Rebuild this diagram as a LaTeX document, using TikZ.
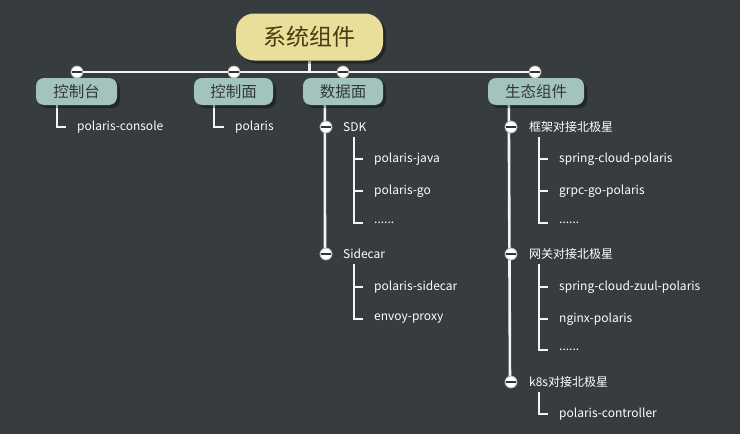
\documentclass[tikz,border=0pt]{standalone}
\usepackage{fontspec}
\setmainfont{Noto Sans CJK SC}
\usetikzlibrary{shadows,patterns,backgrounds}
\definecolor{bgcol}{HTML}{363B3E}
\definecolor{dotcol}{HTML}{43494C}
\definecolor{rootcol}{HTML}{E9DF9A}
\definecolor{roottxt}{HTML}{4A3B10}
\definecolor{maincol}{HTML}{A3C4BD}
\definecolor{maintxt}{HTML}{35363C}
\definecolor{linecol}{HTML}{F4F4F4}
\begin{document}
\begin{tikzpicture}[x=1pt,y=-1pt,
  rootnode/.style={fill=rootcol,rounded corners=18pt,minimum width=147pt,minimum height=47pt,text=roottxt,font=\fontsize{23}{26}\selectfont,drop shadow={shadow xshift=3pt,shadow yshift=-3pt,fill=black,opacity=0.35}},
  mainnode/.style={fill=maincol,rounded corners=8pt,minimum height=27pt,text=maintxt,font=\fontsize{15.5}{18}\selectfont,drop shadow={shadow xshift=3pt,shadow yshift=-3pt,fill=black,opacity=0.35}},
  subnode/.style={anchor=west,inner sep=1pt,text=white,font=\fontsize{12}{14}\selectfont},
  leaf/.style={anchor=west,inner sep=1pt,text=white,font=\fontsize{12}{14}\selectfont},
  fold/.style={circle,draw=gray!60,line width=0.8pt,fill=white,minimum size=12pt,inner sep=0pt,path picture={\draw[gray!40!black,line width=1.3pt] ([xshift=0.8pt]path picture bounding box.west) -- ([xshift=-0.8pt]path picture bounding box.east);}},
  conn/.style={draw=linecol,line width=2.6pt},
  elbow/.style={draw=linecol,line width=2.2pt,shorten >=10pt}
]
  \useasboundingbox (0,0) rectangle (740,434);

  % Root and first level
  \node[rootnode] (root) at (309.5,37) {系统组件};
  \coordinate (hub) at (309.5,72);
  \node[fold] (f1) at (77,72) {};
  \node[fold] (f2) at (234,72) {};
  \node[fold] (f3) at (343,72) {};
  \node[fold] (f4) at (535,72) {};
  \node[mainnode,minimum width=81pt] (console) at (76.5,91.5) {控制台};
  \node[mainnode,minimum width=79pt] (control) at (233.5,91.5) {控制面};
  \node[mainnode,minimum width=80pt] (data) at (343,91.5) {数据面};
  \node[mainnode,minimum width=96pt] (eco) at (536,91.5) {生态组件};

  % Console and control plane
  \node[leaf] (pconsole) at (76,127) {polaris-console};
  \node[leaf] (pserver) at (234,127) {polaris};

  % Data plane
  \node[fold] (fsdk) at (326,127) {};
  \node[fold] (fsidecar) at (326,254) {};
  \node[subnode] (sdk) at (342,127) {SDK};
  \node[subnode] (sidecar) at (342,254) {Sidecar};
  \node[leaf] (pjava) at (373,159) {polaris-java};
  \node[leaf] (pgo) at (373,191) {polaris-go};
  \node[leaf] (sdkmore) at (373,223) {......};
  \node[leaf] (psidecar) at (373,287) {polaris-sidecar};
  \node[leaf] (envoy) at (373,319) {envoy-proxy};

  % Ecosystem
  \node[fold] (fframe) at (511,127) {};
  \node[fold] (fgate) at (511,254) {};
  \node[fold] (fk8s) at (511,382) {};
  \node[subnode] (frame) at (528,127) {框架对接北极星};
  \node[subnode] (gate) at (528,254) {网关对接北极星};
  \node[subnode] (k8s) at (528,382) {k8s对接北极星};
  \node[leaf] (scp) at (558,159) {spring-cloud-polaris};
  \node[leaf] (grpc) at (558,191) {grpc-go-polaris};
  \node[leaf] (framemore) at (558,223) {......};
  \node[leaf] (zuul) at (558,287) {spring-cloud-zuul-polaris};
  \node[leaf] (nginx) at (558,319) {nginx-polaris};
  \node[leaf] (gatemore) at (558,350) {......};
  \node[leaf] (ctrl) at (558,414) {polaris-controller};

  \coordinate (sdkbar) at ([xshift=12pt,yshift=-10pt]sdk.west);
  \coordinate (sidecarbar) at ([xshift=12pt,yshift=-10pt]sidecar.west);
  \coordinate (framebar) at ([xshift=11pt,yshift=-10pt]frame.west);
  \coordinate (gatebar) at ([xshift=11pt,yshift=-10pt]gate.west);
  \coordinate (k8sbar) at ([xshift=11pt,yshift=-10pt]k8s.west);

  \begin{scope}[on background layer]
    \fill[bgcol] (0,0) rectangle (740,434);
    \fill[pattern=dots,pattern color=dotcol] (0,0) rectangle (740,434);
    % Connectors
    \draw[conn] (root.south) -- (hub);
    \draw[conn] (f1.center) -- (f4.center);
    \draw[elbow] ([xshift=21pt]console.south west) |- (pconsole.west);
    \draw[elbow] ([xshift=20pt]control.south west) |- (pserver.west);
    \draw[conn] ([xshift=22pt]data.south west) -- ([xshift=-1pt]fsidecar.center);
    \draw[conn] ([xshift=21pt]eco.south west) -- ([xshift=-1pt]fk8s.center);
    \draw[elbow] (sdkbar) |- (pjava.west);
    \draw[elbow] (sdkbar) |- (pgo.west);
    \draw[elbow] (sdkbar) |- (sdkmore.west);
    \draw[elbow] (sidecarbar) |- (psidecar.west);
    \draw[elbow] (sidecarbar) |- (envoy.west);
    \draw[elbow] (framebar) |- (scp.west);
    \draw[elbow] (framebar) |- (grpc.west);
    \draw[elbow] (framebar) |- (framemore.west);
    \draw[elbow] (gatebar) |- (zuul.west);
    \draw[elbow] (gatebar) |- (nginx.west);
    \draw[elbow] (gatebar) |- (gatemore.west);
    \draw[elbow] (k8sbar) |- (ctrl.west);
  \end{scope}
\end{tikzpicture}
\end{document}
